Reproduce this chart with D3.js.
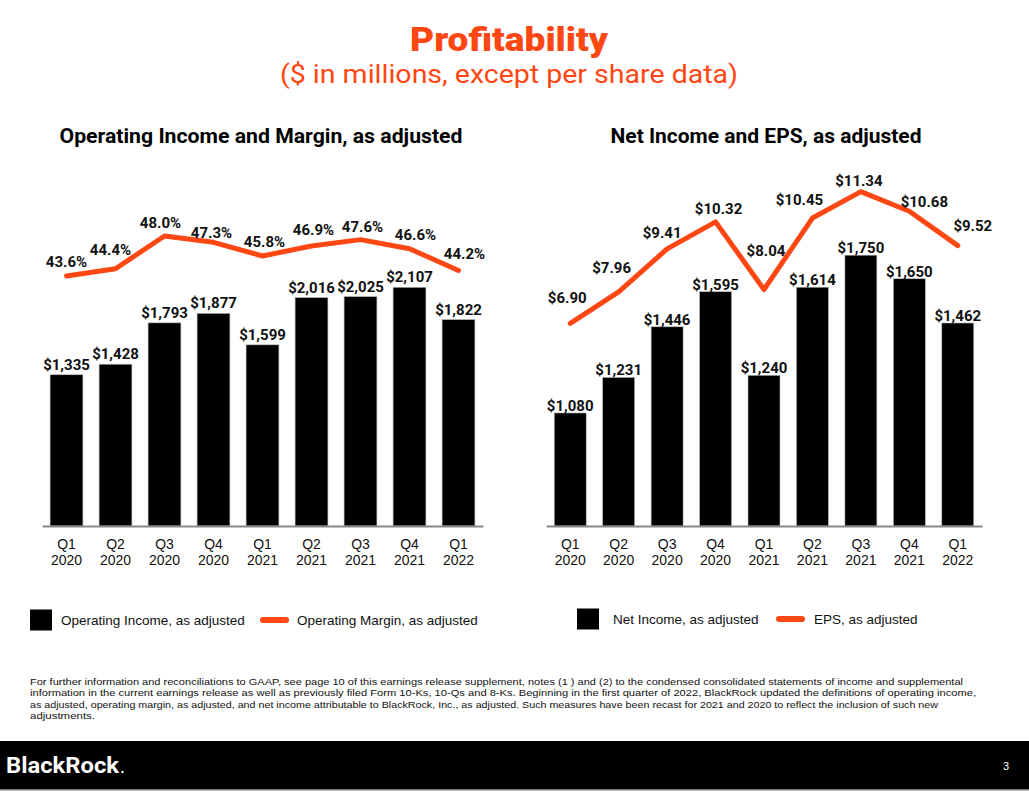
<!DOCTYPE html>
<html>
<head>
<meta charset="utf-8">
<script src="https://cdn.jsdelivr.net/npm/d3@7"></script>
<style>
  body { margin: 0; background: #fff; }
  svg { display: block; }
</style>
</head>
<body>
<div class="Profitability"></div>
<script>
// data
const quarterLabels = ["Q1", "Q2", "Q3", "Q4", "Q1", "Q2", "Q3", "Q4", "Q1"]
const yearLabels = ["2020", "2020", "2020", "2020", "2021", "2021", "2021", "2021", "2022"]
const operatingIncome = [1335, 1428, 1793, 1877, 1599, 2016, 2025, 2107, 1822]
const operatingMargin = [43.6, 44.4, 48.0, 47.3, 45.8, 46.9, 47.6, 46.6, 44.2]
const netIncome = [1080, 1231, 1446, 1595, 1240, 1614, 1750, 1650, 1462]
const eps = [6.90, 7.96, 9.41, 10.32, 8.04, 10.45, 11.34, 10.68, 9.52]

// label nudges (layout only), [dx, dy] from the line point
const marginLabelOffsets = [[0, -14], [-5, -19], [-4, -13], [-2, -10], [2, -14], [2, -16], [2, -13], [6, -14], [6, -17]]
const epsLabelOffsets = [[-3, -26], [-7, -24], [-5, -16], [3, -13], [2, -39], [-13, -18], [-2, -11], [15, -10], [15, -20]]

const footnote = [
  "For further information and reconciliations to GAAP, see page 10 of this earnings release supplement, notes (1 ) and (2) to the condensed consolidated statements of income and supplemental",
  "information in the current earnings release as well as previously filed Form 10-Ks, 10-Qs and 8-Ks. Beginning in the first quarter of 2022, BlackRock updated the definitions of operating income,",
  "as adjusted, operating margin, as adjusted, and net income attributable to BlackRock, Inc., as adjusted.  Such measures have been recast for 2021 and 2020 to reflect the inclusion of such new",
  "adjustments."
]
const footnoteWidths = [933, 946, 908, 65]

const width = 1029
const height = 800
const orange = "#ff4713"
const boldFont = "Roboto, 'Open Sans', sans-serif"
const plainFont = "'Liberation Sans', Arial, sans-serif"

const svg = d3.select(".Profitability").append("svg")
    .attr("width", width)
    .attr("height", height)
    .attr("viewBox", [0, 0, width, height])

// page titles
svg.append("text")
    .attr("x", 509).attr("y", 51)
    .attr("text-anchor", "middle")
    .attr("font-family", boldFont)
    .attr("font-weight", 900)
    .attr("font-size", 33)
    .attr("fill", orange)
    .attr("textLength", 198)
    .attr("lengthAdjust", "spacingAndGlyphs")
    .text("Profitability")

svg.append("text")
    .attr("x", 509).attr("y", 83)
    .attr("text-anchor", "middle")
    .attr("font-family", boldFont)
    .attr("font-size", 26)
    .attr("fill", orange)
    .attr("textLength", 458)
    .attr("lengthAdjust", "spacingAndGlyphs")
    .text("($ in millions, except per share data)")

const drawPanel = (p) => {
  const baseline = 526
  const g = svg.append("g")

  g.append("text")
      .attr("x", p.titleX).attr("y", 143)
      .attr("text-anchor", "middle")
      .attr("font-family", boldFont)
      .attr("font-weight", 700)
      .attr("font-size", 20)
      .attr("fill", "#000")
      .attr("textLength", p.titleWidth)
      .attr("lengthAdjust", "spacingAndGlyphs")
      .text(p.title)

  let x = d3.scaleBand()
    .domain(d3.range(p.bars.length))
    .range(p.xRange)
    .paddingInner(p.pad)
    .paddingOuter(p.pad / 2)

  let yBar = d3.scaleLinear()
    .domain(p.barDomain)
    .range([baseline, p.barTop])

  let yLine = d3.scaleLinear()
    .domain(p.lineDomain)
    .range(p.lineRange)

  // bars
  g.append("g")
    .selectAll("rect")
    .data(p.bars)
    .join("rect")
      .attr("x", (d, i) => x(i))
      .attr("y", d => yBar(d))
      .attr("width", x.bandwidth())
      .attr("height", d => baseline - yBar(d))
      .attr("fill", "#000")
      .attr("stroke", "#bbb")
      .attr("stroke-width", 0.6)

  // bar value labels
  g.append("g")
    .selectAll("text")
    .data(p.bars)
    .join("text")
      .attr("x", (d, i) => x(i) + x.bandwidth() / 2)
      .attr("y", d => yBar(d) - p.barLabelGap)
      .attr("text-anchor", "middle")
      .attr("font-family", boldFont)
      .attr("font-weight", 700)
      .attr("font-size", 15)
      .attr("fill", "#111")
      .text(d => "$" + d3.format(",")(d))

  // x axis
  let xAxis = gg => gg
    .attr("transform", `translate(0,${baseline})`)
    .call(d3.axisBottom(x).tickSize(0).tickSizeOuter(0).tickFormat(i => quarterLabels[i]))
    .call(gg => gg.select(".domain").attr("stroke", "#888").attr("stroke-width", 2))
    .call(gg => gg.selectAll(".tick text")
        .attr("font-family", plainFont)
        .attr("font-size", 14)
        .attr("fill", "#111")
        .attr("y", 0)
        .attr("dy", null)
        .each(function (i) {
          const t = d3.select(this).text(null)
          t.append("tspan").attr("x", 0).attr("y", 23).text(quarterLabels[i])
          t.append("tspan").attr("x", 0).attr("y", 39).text(yearLabels[i])
        }))

  g.append("g").call(xAxis)

  // line
  const line = d3.line()
    .x((d, i) => x(i) + x.bandwidth() / 2)
    .y(d => yLine(d))

  g.append("path")
      .datum(p.line)
      .attr("d", line)
      .attr("fill", "none")
      .attr("stroke", orange)
      .attr("stroke-width", 5)
      .attr("stroke-linejoin", "round")
      .attr("stroke-linecap", "round")

  g.append("g")
    .selectAll("text")
    .data(p.line)
    .join("text")
      .attr("x", (d, i) => x(i) + x.bandwidth() / 2 + p.offsets[i][0])
      .attr("y", (d, i) => yLine(d) + p.offsets[i][1])
      .attr("dy", "0.36em")
      .attr("text-anchor", "middle")
      .attr("font-family", boldFont)
      .attr("font-weight", 700)
      .attr("font-size", 15)
      .attr("fill", "#111")
      .text(p.lineFormat)

  // legend
  const L = p.legend
  const lg = g.append("g")
  lg.append("rect")
      .attr("x", L.box).attr("y", L.y - 10.5)
      .attr("width", 22).attr("height", 21)
      .attr("fill", "#000")
  lg.append("text")
      .attr("x", L.boxText).attr("y", L.y)
      .attr("dy", "0.35em")
      .attr("font-family", plainFont)
      .attr("font-size", 13.5)
      .attr("fill", "#111")
      .text(L.barText)
  lg.append("line")
      .attr("x1", L.line + 3).attr("x2", L.line + 26)
      .attr("y1", L.y).attr("y2", L.y)
      .attr("stroke", orange)
      .attr("stroke-width", 6)
      .attr("stroke-linecap", "round")
  lg.append("text")
      .attr("x", L.lineText).attr("y", L.y)
      .attr("dy", "0.35em")
      .attr("font-family", plainFont)
      .attr("font-size", 13.5)
      .attr("fill", "#111")
      .text(L.lineLabel)
}

drawPanel({
  title: "Operating Income and Margin, as adjusted",
  titleX: 261,
  titleWidth: 403,
  xRange: [42, 483],
  pad: 0.33,
  bars: operatingIncome,
  barDomain: [0, 4000],
  barTop: 526 - 4000 * 0.1133,
  barLabelGap: 5,
  line: operatingMargin,
  lineDomain: [40, 50],
  lineRange: [308.7, 217.8],
  offsets: marginLabelOffsets,
  lineFormat: d => d3.format(".1f")(d) + "%",
  legend: { box: 30, boxText: 61, line: 260, lineText: 297, y: 620,
            barText: "Operating Income, as adjusted", lineLabel: "Operating Margin, as adjusted" }
})

drawPanel({
  title: "Net Income and EPS, as adjusted",
  titleX: 766,
  titleWidth: 311,
  xRange: [546, 982],
  pad: 0.34,
  bars: netIncome,
  barDomain: [600, 2400],
  barTop: 526 - 1800 * 0.2355,
  barLabelGap: 2,
  line: eps,
  lineDomain: [5, 12],
  lineRange: [379.6, 172.1],
  offsets: epsLabelOffsets,
  lineFormat: d => "$" + d3.format(".2f")(d),
  legend: { box: 577, boxText: 613, line: 776, lineText: 814, y: 619,
            barText: "Net Income, as adjusted", lineLabel: "EPS, as adjusted" }
})

// footnote
svg.append("g")
  .selectAll("text")
  .data(footnote)
  .join("text")
    .attr("x", 30)
    .attr("y", (d, i) => 685 + i * 11.4)
    .attr("font-family", plainFont)
    .attr("font-size", 9.8)
    .attr("fill", "#111")
    .attr("textLength", (d, i) => footnoteWidths[i])
    .attr("lengthAdjust", "spacingAndGlyphs")
    .text(d => d)

// footer band
svg.append("rect")
    .attr("x", 0).attr("y", 741)
    .attr("width", width).attr("height", 48)
    .attr("fill", "#000")
svg.append("rect")
    .attr("x", 0).attr("y", 789)
    .attr("width", width).attr("height", 1.5)
    .attr("fill", "#777")

svg.append("text")
    .attr("x", 6).attr("y", 773)
    .attr("font-family", boldFont)
    .attr("font-weight", 700)
    .attr("font-size", 22)
    .attr("fill", "#fff")
    .attr("textLength", 113)
    .attr("lengthAdjust", "spacingAndGlyphs")
    .text("BlackRock")
svg.append("circle")
    .attr("cx", 122.5).attr("cy", 772).attr("r", 1.2)
    .attr("fill", "#fff")

svg.append("text")
    .attr("x", 1003).attr("y", 770)
    .attr("font-family", plainFont)
    .attr("font-size", 11)
    .attr("fill", "#fff")
    .text("3")
</script>
</body>
</html>
